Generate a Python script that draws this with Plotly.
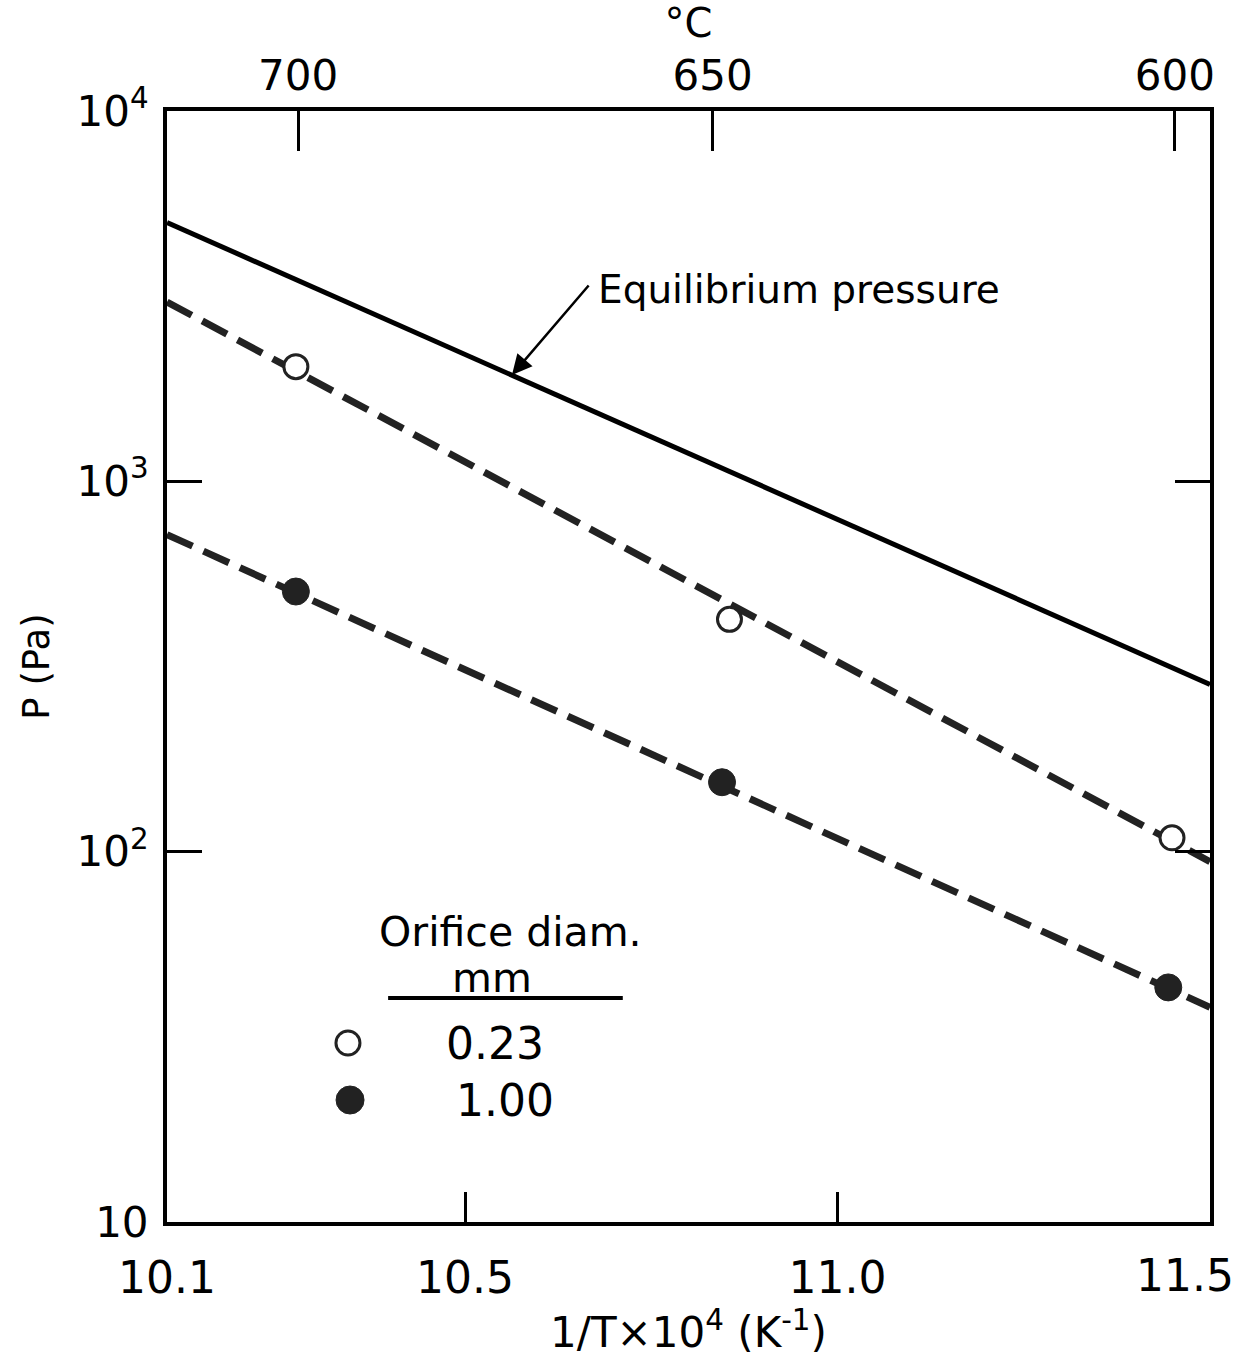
import plotly.graph_objects as go

# ---------------- data ----------------
x_line = [10.1, 11.5]                 # 1/T x 10^4 (K^-1) extent of the drawn lines
p_equilibrium = [5000, 283]           # equilibrium pressure line (Pa)
p_fit_023 = [3050, 94]                # dashed fit, 0.23 mm orifice
p_fit_100 = [718, 38]                 # dashed fit, 1.00 mm orifice

x_pts_023 = [10.273, 10.855, 11.449]
p_pts_023 = [2040, 424, 109]
x_pts_100 = [10.273, 10.845, 11.444]
p_pts_100 = [504, 154, 43]

x_ticks = [10.1, 10.5, 11.0, 11.5]
x_ticktext = ["10.1", "10.5", "11.0", ""]
x_last_label = "11.5"
y_ticks = [10, 100, 1000, 10000]
y_ticktext = ["10", "10<sup>2</sup>", "10<sup>3</sup>", "10<sup>4</sup>"]
celsius_ticks = [700, 650, 600]

FONT = "DejaVu Sans"

fig = go.Figure()

fig.add_trace(go.Scatter(x=x_line, y=p_equilibrium, mode="lines",
                         line=dict(color="black", width=5), showlegend=False))
fig.add_trace(go.Scatter(x=x_line, y=p_fit_023, mode="lines",
                         line=dict(color="#222", width=7, dash="28px,12px"), showlegend=False))
fig.add_trace(go.Scatter(x=x_line, y=p_fit_100, mode="lines",
                         line=dict(color="#222", width=7, dash="28px,12px"), showlegend=False))
fig.add_trace(go.Scatter(x=x_pts_023, y=p_pts_023, mode="markers",
                         marker=dict(symbol="circle", size=24, color="white",
                                     line=dict(color="#222", width=3)), showlegend=False))
fig.add_trace(go.Scatter(x=x_pts_100, y=p_pts_100, mode="markers",
                         marker=dict(symbol="circle", size=27, color="#222",
                                     line=dict(color="#222", width=1)), showlegend=False))
# invisible trace to activate the top (°C) axis
fig.add_trace(go.Scatter(x=x_line, y=p_equilibrium, xaxis="x2", mode="lines",
                         line=dict(width=0), opacity=0, hoverinfo="skip", showlegend=False))

celsius_pos = [1e4 / (t + 273.15) for t in celsius_ticks]

fig.update_layout(
    width=1238, height=1364,
    margin=dict(l=167, r=28, t=111, b=142),
    paper_bgcolor="white", plot_bgcolor="white",
    font=dict(family=FONT, color="black"),
    xaxis=dict(range=[10.1, 11.5], tickvals=x_ticks, ticktext=x_ticktext,
               ticks="inside", ticklen=30, tickwidth=3, tickcolor="black",
               showline=True, linewidth=4, linecolor="black", mirror=True,
               showgrid=False, zeroline=False, tickfont=dict(size=44),
               ticklabelstandoff=14,
               title=dict(text="1/T×10<sup>4</sup> (K<sup>-1</sup>)",
                          font=dict(size=42), standoff=10)),
    xaxis2=dict(range=[10.1, 11.5], overlaying="x", side="top", anchor="y",
                tickvals=celsius_pos, ticktext=[str(t) for t in celsius_ticks],
                ticks="inside", ticklen=40, tickwidth=3, tickcolor="black",
                showline=False, showgrid=False, zeroline=False,
                tickfont=dict(size=42), ticklabelstandoff=12,
                title=dict(text="°C", font=dict(size=40), standoff=0)),
    yaxis=dict(type="log", range=[1, 4], tickvals=y_ticks, ticktext=y_ticktext,
               ticks="inside", ticklen=35, tickwidth=3, tickcolor="black",
               showline=True, linewidth=4, linecolor="black", mirror="ticks",
               showgrid=False, zeroline=False, tickfont=dict(size=42),
               ticklabelstandoff=6,
               title=dict(text="P (Pa)", font=dict(size=37), standoff=16)),
)

# last bottom tick label (kept inside the page)
fig.add_annotation(x=1.0, y=0, xref="paper", yref="paper", text=x_last_label,
                   showarrow=False, xanchor="right", yanchor="top", xshift=26, yshift=-26,
                   font=dict(size=44))

# Equilibrium pressure label and arrow
fig.add_annotation(x=10.563, y=3.287, xref="x", yref="y", text="",
                   showarrow=True, ax=78, ay=-91, arrowhead=2, arrowsize=1.6,
                   arrowwidth=2.5, arrowcolor="black", standoff=0)
fig.add_annotation(x=10.676, y=3.517, xref="x", yref="y",
                   text="Equilibrium pressure", showarrow=False,
                   xanchor="left", yanchor="middle", font=dict(size=39))

# Manual legend
fig.add_annotation(x=0.329, y=0.261, xref="paper", yref="paper", text="Orifice diam.",
                   showarrow=False, font=dict(size=41), xanchor="center", yanchor="middle")
fig.add_annotation(x=0.312, y=0.2196, xref="paper", yref="paper", text="mm",
                   showarrow=False, font=dict(size=41), xanchor="center", yanchor="middle")
fig.add_annotation(x=0.3145, y=0.1611, xref="paper", yref="paper", text="0.23",
                   showarrow=False, font=dict(size=44), xanchor="center", yanchor="middle")
fig.add_annotation(x=0.324, y=0.1098, xref="paper", yref="paper", text="1.00",
                   showarrow=False, font=dict(size=44), xanchor="center", yanchor="middle")
fig.add_shape(type="line", xref="paper", yref="paper", x0=0.212, x1=0.437,
              y0=0.2016, y1=0.2016, line=dict(color="black", width=4))
fig.add_shape(type="circle", xref="paper", yref="paper", xsizemode="pixel", ysizemode="pixel",
              xanchor=0.1735, yanchor=0.1611, x0=-12, x1=12, y0=-12, y1=12,
              line=dict(color="#222", width=3), fillcolor="white")
fig.add_shape(type="circle", xref="paper", yref="paper", xsizemode="pixel", ysizemode="pixel",
              xanchor=0.1755, yanchor=0.1098, x0=-14, x1=14, y0=-14, y1=14,
              line=dict(color="#222", width=1), fillcolor="#222")

fig.write_html("out.html")
